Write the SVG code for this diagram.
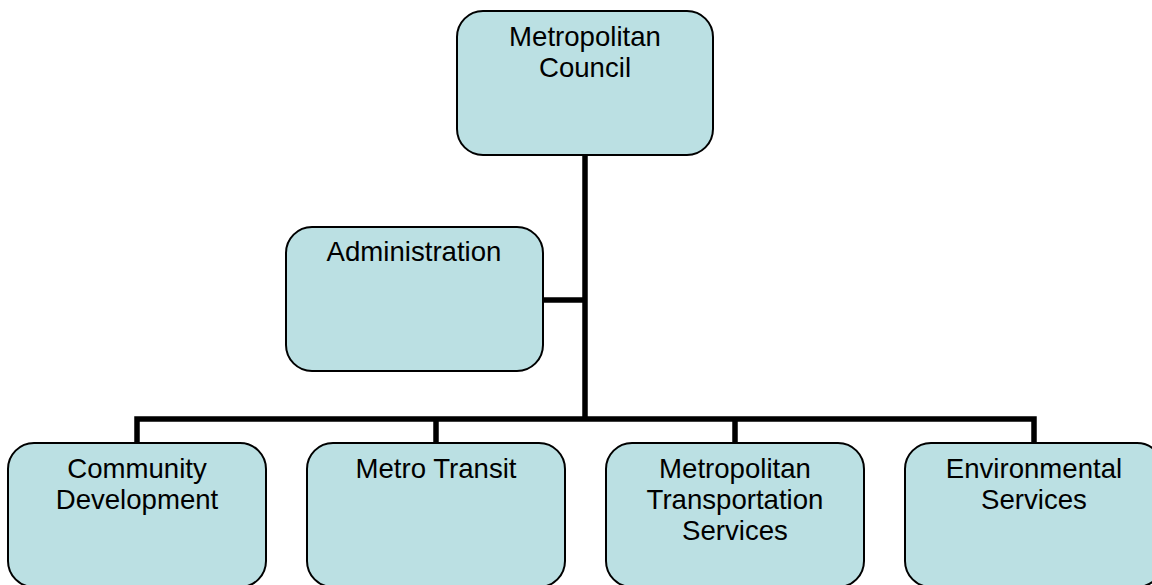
<svg xmlns="http://www.w3.org/2000/svg" width="1152" height="585" viewBox="0 0 1152 585">
<style>
.box{fill:#bbe0e3;stroke:#000;stroke-width:2}
.lbl{font-family:"Liberation Sans",Arial,sans-serif;font-size:27.6px;fill:#000;text-anchor:middle}
.conn{fill:none;stroke:#000;stroke-width:5.5}
</style>
<rect width="1152" height="585" fill="#fff"/>
<g id="connectors">
<line class="conn" x1="585" y1="155" x2="585" y2="419"/>
<line class="conn" x1="543" y1="300" x2="585" y2="300"/>
<polyline class="conn" points="137,443 137,419 1034,419 1034,443"/>
<line class="conn" x1="436" y1="419" x2="436" y2="443"/>
<line class="conn" x1="735" y1="419" x2="735" y2="443"/>
</g>
<g id="node-council">
<rect class="box" x="457" y="11" width="256" height="144" rx="26"/>
<text class="lbl" x="585" y="46">Metropolitan</text>
<text class="lbl" x="585" y="77">Council</text>
</g>
<g id="node-admin">
<rect class="box" x="286" y="227" width="257" height="144" rx="26"/>
<text class="lbl" x="414" y="261">Administration</text>
</g>
<g id="node-community">
<rect class="box" x="8" y="443" width="258" height="144" rx="26"/>
<text class="lbl" x="137" y="478">Community</text>
<text class="lbl" x="137" y="509">Development</text>
</g>
<g id="node-transit">
<rect class="box" x="307" y="443" width="258" height="144" rx="26"/>
<text class="lbl" x="436" y="478">Metro Transit</text>
</g>
<g id="node-mts">
<rect class="box" x="606" y="443" width="258" height="144" rx="26"/>
<text class="lbl" x="735" y="478">Metropolitan</text>
<text class="lbl" x="735" y="509">Transportation</text>
<text class="lbl" x="735" y="540">Services</text>
</g>
<g id="node-env">
<rect class="box" x="905" y="443" width="258" height="144" rx="26"/>
<text class="lbl" x="1034" y="478">Environmental</text>
<text class="lbl" x="1034" y="509">Services</text>
</g>
</svg>
